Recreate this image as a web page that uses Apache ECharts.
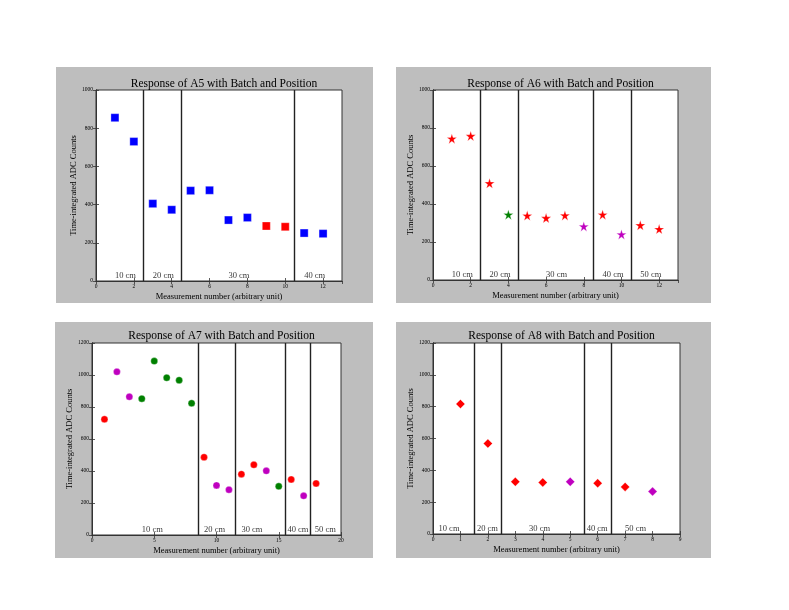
<!DOCTYPE html>
<html>
<head>
<meta charset="utf-8">
<script src="https://cdn.jsdelivr.net/npm/echarts@6/dist/echarts.min.js"></script>
<style>html,body{margin:0;padding:0;background:#fff}#c{width:789px;height:610px}</style>
</head>
<body>
<div id="c"></div>
<script>
// ---- data ----
const a5X = [1,2,3,4,5,6,7,8,9,10,11,12];
const a5Y = [855,730,405,373,473,475,319,332,288,284,251,248];
const a5C = ['b','b','b','b','b','b','b','b','r','r','b','b'];
const a5Sep = [2.5,4.5,10.5];
const a5Lab = ['10 cm','20 cm','30 cm','40 cm'];
const a5LabX = [1,3,7,11];

const a6X = [1,2,3,4,5,6,7,8,9,10,11,12];
const a6Y = [744,758,509,344,339,326,340,282,344,240,288,268];
const a6C = ['r','r','r','g','r','r','r','m','r','m','r','r'];
const a6Sep = [2.5,4.5,8.5,10.5];
const a6Lab = ['10 cm','20 cm','30 cm','40 cm','50 cm'];
const a6LabX = [1,3,6,9,11];

const a7X = [1,2,3,4,5,6,7,8,9,10,11,12,13,14,15,16,17,18];
const a7Y = [723,1020,864,852,1087,983,967,823,486,310,283,380,439,401,304,347,245,322];
const a7C = ['r','m','m','g','g','g','g','g','r','m','m','r','r','m','g','r','m','r'];
const a7Sep = [8.5,11.5,15.5,17.5];
const a7Lab = ['10 cm','20 cm','30 cm','40 cm','50 cm'];
const a7LabX = [4,9,12,15.7,17.9];

const a8X = [1,2,3,4,5,6,7,8];
const a8Y = [817,568,328,324,328,319,296,267];
const a8C = ['r','r','r','r','m','r','r','m'];
const a8Sep = [1.5,2.5,5.5,6.5];
const a8Lab = ['10 cm','20 cm','30 cm','40 cm','50 cm'];
const a8LabX = [0.2,1.6,3.5,5.6,7.0];

const titles = ['Response of A5 with Batch and Position','Response of A6 with Batch and Position',
                'Response of A7 with Batch and Position','Response of A8 with Batch and Position'];
const xName = 'Measurement number (arbitrary unit)';
const yName = 'Time-integrated ADC Counts';

// ---- styling / layout ----
const colorMap = {b:'#0000ff', r:'#ff0000', g:'#008000', m:'#bf00bf'};
const FONT = 'Liberation Serif';
const STAR = 'path://M50,0 L61.2,34.5 L97.6,34.5 L68.2,55.9 L79.4,90.5 L50,69.1 L20.6,90.5 L31.8,55.9 L2.4,34.5 L38.8,34.5 Z';

const panels = [
  {x:a5X,y:a5Y,c:a5C,sep:a5Sep,lab:a5Lab,labX:a5LabX,sym:'rect',size:8,xmax:13,xint:2,ymax:1000,
   grid:{left:96,top:90,width:246,height:191}, bg:[56,67,317,236], ty:73},
  {x:a6X,y:a6Y,c:a6C,sep:a6Sep,lab:a6Lab,labX:a6LabX,sym:STAR,size:10,xmax:13,xint:2,ymax:1000,
   grid:{left:433,top:90,width:245,height:190}, bg:[396,67,315,236], ty:73},
  {x:a7X,y:a7Y,c:a7C,sep:a7Sep,lab:a7Lab,labX:a7LabX,sym:'circle',size:7,xmax:20,xint:5,ymax:1200,
   grid:{left:92,top:343,width:249,height:192}, bg:[55,322,318,236], ty:325},
  {x:a8X,y:a8Y,c:a8C,sep:a8Sep,lab:a8Lab,labX:a8LabX,sym:'diamond',size:9,xmax:9,xint:1,ymax:1200,
   grid:{left:433,top:343,width:247,height:191}, bg:[396,322,315,236], ty:325}
];

const grid=[], xAxis=[], yAxis=[], series=[], title=[], graphic=[];
panels.forEach((p,i)=>{
  graphic.push({type:'rect', shape:{x:p.bg[0],y:p.bg[1],width:p.bg[2],height:p.bg[3]},
                style:{fill:'#bebebe'}, z:-10});
  grid.push(Object.assign({show:true, backgroundColor:'#fff', borderColor:'#333', borderWidth:1}, p.grid));
  title.push({text:titles[i], left:p.grid.left+p.grid.width/2, top:p.ty, textAlign:'center',
              textStyle:{fontFamily:FONT, fontSize:11.5, fontWeight:'normal', color:'#000'}});
  const tickStyle = {show:true, inside:true, length:3, lineStyle:{color:'#333', width:0.8}};
  const lineStyle = {show:true, lineStyle:{color:'#333', width:1}};
  const lblX = {fontFamily:FONT, fontSize:5.5, color:'#000', margin:3, formatter:v=>String(v),
                showMaxLabel: (p.xmax % p.xint === 0)};
  xAxis.push({gridIndex:i, type:'value', min:0, max:p.xmax, interval:p.xint, position:'bottom',
    name:xName, nameLocation:'middle', nameGap:11,
    nameTextStyle:{fontFamily:FONT, fontSize:8.5, color:'#000'},
    axisLine:lineStyle, axisTick:tickStyle, splitLine:{show:false}, axisLabel:lblX});
  yAxis.push({gridIndex:i, type:'value', min:0, max:p.ymax, interval:200, position:'left',
    name:yName, nameLocation:'middle', nameGap:15,
    nameTextStyle:{fontFamily:FONT, fontSize:8.5, color:'#000'},
    axisLine:lineStyle, axisTick:tickStyle, splitLine:{show:false},
    axisLabel:{fontFamily:FONT, fontSize:5.5, color:'#000', margin:3, formatter:v=>String(v)}});
  // opposite-side tick axes
  xAxis.push({gridIndex:i, type:'value', min:0, max:p.xmax, interval:p.xint, position:'top',
    axisLine:lineStyle, axisTick:tickStyle, axisLabel:{show:false}, splitLine:{show:false}});
  yAxis.push({gridIndex:i, type:'value', min:0, max:p.ymax, interval:200, position:'right',
    axisLine:lineStyle, axisTick:tickStyle, axisLabel:{show:false}, splitLine:{show:false}});
  const xi = i*2, yi = i*2;
  series.push({type:'scatter', xAxisIndex:xi, yAxisIndex:yi, symbol:p.sym, symbolSize:p.size,
    data:p.x.map((x,k)=>({value:[x,p.y[k]], itemStyle:{color:colorMap[p.c[k]], opacity:1,
      borderColor:'rgba(255,255,255,0.6)', borderWidth:0.5}})),
    markLine:{silent:true, symbol:'none', label:{show:false},
      lineStyle:{color:'#222', width:1.4, type:'solid'},
      data:p.sep.map(s=>({xAxis:s}))},
    z:3});
  series.push({type:'scatter', xAxisIndex:xi, yAxisIndex:yi, symbolSize:0, silent:true,
    data:p.labX.map((x,k)=>({value:[x, p.ymax*0.027], name:p.lab[k]})),
    label:{show:true, position:'right', distance:0, formatter:'{b}',
      fontFamily:FONT, fontSize:8.5, color:'#000'}, z:4});
});

const chart = echarts.init(document.getElementById('c'), null, {renderer:'canvas'});
chart.setOption({animation:false, backgroundColor:'#fff', graphic, title, grid, xAxis, yAxis, series});
</script>
</body>
</html>
